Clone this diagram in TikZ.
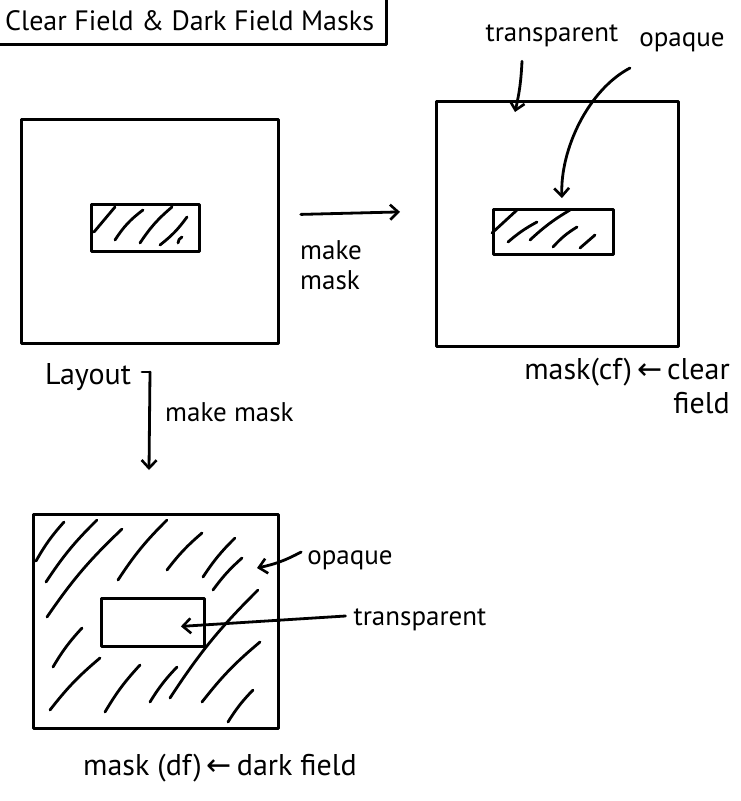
\documentclass[tikz,border=0pt]{standalone}
\usepackage{fontspec}
\setmainfont{PT Sans}
\newfontfamily\symf{DejaVu Sans}
\usetikzlibrary{arrows.meta}
\begin{document}
\begin{tikzpicture}[x=1pt,y=-1pt,
  ink/.style={line width=2.8pt, line cap=round, line join=round},
  box/.style={ink, draw, rectangle, inner sep=0pt},
  lbl/.style={font=\fontsize{27}{30}\selectfont, inner sep=0pt},
  big/.style={font=\fontsize{30}{34}\selectfont, inner sep=0pt},
  arr/.style={ink, -{Straight Barb[length=8pt,width=15pt,line width=2.6pt]}}]
\useasboundingbox (0,0) rectangle (740,801);

% title
\node[box, minimum width=400pt, minimum height=47pt, anchor=north east,
      font=\fontsize{28}{31}\selectfont] (title) at (388,-4) {\hspace*{6pt}Clear Field \& Dark Field Masks};

% layout
\node[box, minimum width=257pt, minimum height=224pt, anchor=north west] (layout) at (20,118) {};
\node[box, minimum width=108pt, minimum height=47pt, anchor=north west] (layin) at (90,203) {};
\draw[ink] (94,232) -- (115,207);
\draw[ink] (115,240) to[bend left=10] (143,210);
\draw[ink] (140,243) to[bend left=8] (172,207);
\draw[ink] (160,245) to[bend right=8] (187,217);
\draw[ink] (178,243) to[bend left=30] (182,237);
\node[big] (lay) at (88,377) {Layout};

% clear field mask
\node[box, minimum width=242pt, minimum height=245pt, anchor=north west] (cf) at (435,100) {};
\node[box, minimum width=120pt, minimum height=45pt, anchor=north west] (cfin) at (492,208) {};
\draw[ink] (492,233) -- (517,210);
\draw[ink] (508,242) to[bend left=6] (537,222);
\draw[ink] (530,240) to[bend left=6] (570,210);
\draw[ink] (553,247) to[bend left=8] (577,227);
\draw[ink] (580,248) -- (595,235);
\node[big, align=right, anchor=north east] (cfl) at (730,358) {mask(cf)\,{\symf ←}\,clear\\field};

% dark field mask
\node[box, minimum width=245pt, minimum height=214pt, anchor=north west] (df) at (32,513) {};
\node[box, minimum width=103pt, minimum height=48pt, anchor=north west] (dfin) at (100,597) {};
\foreach \xa/\ya/\xb/\yb in {36/561/64/522, 46/582/97/520, 47/617/122/529, 118/580/167/520,
                   167/570/202/533, 203/577/235/538, 213/590/242/558, 53/667/82/628,
                   50/710/100/658, 105/712/140/665, 150/702/177/667, 170/698/258/590,
                   202/702/260/642, 228/722/253/690}
  \draw[ink] (\xa,\ya) to[bend left=6] (\xb,\yb);
\node[big] (dfl) at (220,768) {mask (df)\,{\symf ←}\,dark field};

% make mask steps
\node[lbl, align=left, anchor=north west] (mk1) at (300,240) {make\\mask};
\draw[arr] ([xshift=21pt,yshift=17pt]layout.east) -- ([xshift=-35pt,yshift=12pt]cf.west);
\coordinate (vtop) at (150,372);
\coordinate (vbot) at (149,470);
\draw[ink] ([xshift=-8pt]vtop) -- (vtop);
\draw[arr] (vtop) -- (vbot);
\node[lbl, anchor=west] (mk2) at (165,412) {make mask};

% callouts, clear field
\node[lbl] (tT) at (552,36) {transparent};
\node[lbl] (oT) at (682,42) {opaque};
\coordinate (tTtip) at (515,112);
\coordinate (oTtip) at (562,198);
\draw[arr] ([xshift=-30pt,yshift=-14pt]tT.south) to[bend left=5] (tTtip);
\draw[arr] ([xshift=-52pt,yshift=-26pt]oT.center) .. controls (588,90) and (560,150) .. (oTtip);

% callouts, dark field
\node[lbl] (oB) at (350,560) {opaque};
\node[lbl] (tB) at (420,620) {transparent};
\draw[arr] ([xshift=-6pt,yshift=8pt]oB.west) to[bend left=8] (257,568);
\draw[arr] ([xshift=-8pt,yshift=4pt]tB.west) -- ([xshift=28pt,yshift=-4pt]dfin.center);
\end{tikzpicture}
\end{document}
